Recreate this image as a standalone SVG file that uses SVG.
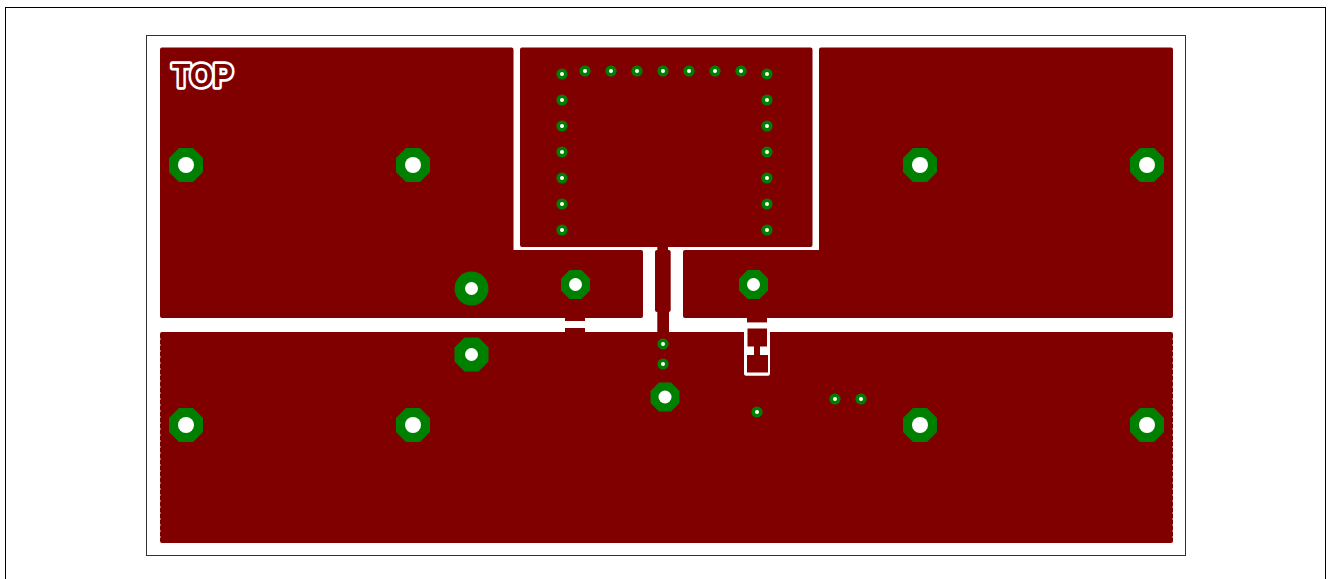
<svg xmlns="http://www.w3.org/2000/svg" width="1330" height="579" viewBox="0 0 1330 579">
<style>
.outer{fill:none;stroke:#000;stroke-width:1}
.frame{fill:none;stroke:#333;stroke-width:1}
.plane{fill:#800000;stroke:#800000;stroke-width:4;stroke-linejoin:round}
.copper{fill:#800000}
.cut{fill:#fff}
.edge{fill:none;stroke:#fff;stroke-width:1;stroke-dasharray:2 4;opacity:.4}
.pad{fill:#008000}
.hole{fill:#fff}
.top{font-family:"Liberation Sans",Arial,sans-serif;font-weight:bold;font-size:33px;fill:#800000;stroke:#fff;stroke-width:5.500;paint-order:stroke;stroke-linejoin:round}
</style>
<defs>
<g id="viaL"><polygon class="pad" points="-17,-7 -7,-17 7,-17 17,-7 17,7 7,17 -7,17 -17,7"/><circle class="hole" r="8"/></g>
<g id="viaM"><polygon class="pad" points="-14.500,-6 -6,-14.500 6,-14.500 14.500,-6 14.500,6 6,14.500 -6,14.500 -14.500,6"/><circle class="hole" r="6.500"/></g>
<g id="viaW"><polygon class="pad" points="-17,-7 -7,-17 7,-17 17,-7 17,7 7,17 -7,17 -17,7"/><circle class="hole" r="6.500"/></g>
<g id="viaC"><circle class="pad" r="17"/><circle class="hole" r="6.500"/></g>
<g id="viaS"><circle class="pad" r="5.600"/><circle class="hole" r="2"/></g>
</defs>
<rect width="1330" height="579" fill="#fff"/>
<rect class="outer" x="5.500" y="7.500" width="1320" height="590"/>
<rect class="frame" x="146.500" y="35.500" width="1039" height="520"/>

<g id="planes">
<path class="plane" d="M162,49.500H511.500V252H641V316H162Z"/>
<path class="plane" d="M522,49.500H810.500V245H666V252H668.700V310H667V334H1171V541H162V334H659.300V310H657V252H659.300V245H522Z"/>
<path class="plane" d="M821,49.500H1171V316H685V252H821Z"/>
<path class="edge" d="M160.500,338V538M1172.500,338V538"/>
</g>
<g id="necks">
<rect class="copper" x="565" y="316" width="20" height="5"/>
<rect class="copper" x="565" y="328" width="20" height="6"/>
<rect class="copper" x="747" y="316" width="20" height="6.400"/>
</g>
<g id="pad-cutout">
<path class="cut" d="M744,330H770V373.500Q770,375.700 768,375.700H746Q744,375.700 744,373.500Z"/>
<path class="copper" d="M747.500,328.500H767V346.500H760V355H768V372.500H747V355H754V346.500H747.500Z"/>
</g>
<g id="label"><text class="top" x="172" y="87" textLength="61" lengthAdjust="spacingAndGlyphs">TOP</text></g>
<g id="vias">
<use href="#viaL" x="186" y="165"/>
<use href="#viaL" x="413" y="165"/>
<use href="#viaL" x="920" y="165"/>
<use href="#viaL" x="1147" y="165"/>
<use href="#viaL" x="186" y="425"/>
<use href="#viaL" x="413" y="425"/>
<use href="#viaL" x="920" y="425"/>
<use href="#viaL" x="1147" y="425"/>
<use href="#viaC" x="471.500" y="288.500"/>
<use href="#viaW" x="471.500" y="354.500"/>
<use href="#viaM" x="575.500" y="284.500"/>
<use href="#viaM" x="753.500" y="284.500"/>
<use href="#viaM" x="665" y="397"/>
<use href="#viaS" x="562" y="74"/><use href="#viaS" x="562" y="100"/><use href="#viaS" x="562" y="126"/><use href="#viaS" x="562" y="152"/><use href="#viaS" x="562" y="178"/><use href="#viaS" x="562" y="204"/><use href="#viaS" x="562" y="230"/>
<use href="#viaS" x="767" y="74"/><use href="#viaS" x="767" y="100"/><use href="#viaS" x="767" y="126"/><use href="#viaS" x="767" y="152"/><use href="#viaS" x="767" y="178"/><use href="#viaS" x="767" y="204"/><use href="#viaS" x="767" y="230"/>
<use href="#viaS" x="585" y="71"/><use href="#viaS" x="611" y="71"/><use href="#viaS" x="637" y="71"/><use href="#viaS" x="663" y="71"/><use href="#viaS" x="689" y="71"/><use href="#viaS" x="715" y="71"/><use href="#viaS" x="741" y="71"/>
<use href="#viaS" x="663" y="344"/><use href="#viaS" x="663" y="364"/>
<use href="#viaS" x="757" y="412"/><use href="#viaS" x="835" y="399"/><use href="#viaS" x="861" y="399"/>
</g>
</svg>
